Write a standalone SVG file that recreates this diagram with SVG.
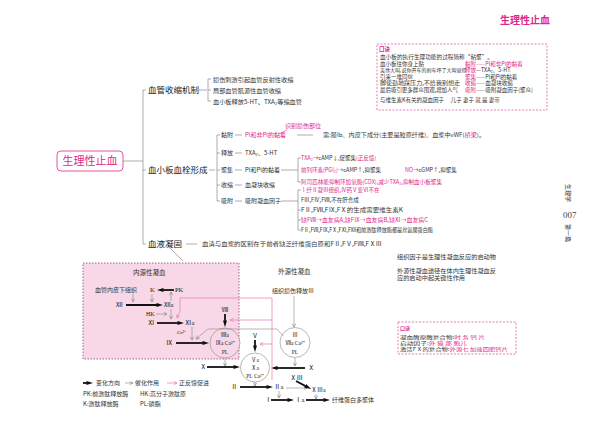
<svg xmlns="http://www.w3.org/2000/svg" width="600" height="429" viewBox="0 0 600 429">
<defs>
<style>
.c{font-family:"Noto Sans CJK SC","Liberation Sans",sans-serif;fill:#333}
.r{font-family:"Liberation Serif","Noto Sans CJK SC",serif;fill:#222}
.p{fill:#e0288a}
.ln{stroke:#777;stroke-width:0.6;fill:none}
.tk{stroke:#111;stroke-width:1.8;fill:none;marker-end:url(#ah)}
.tn{stroke:#888;stroke-width:0.6;fill:none;marker-end:url(#ag)}
.pka{stroke:#e67ab0;stroke-width:0.7;fill:none;marker-end:url(#ap)}
.box{fill:none;stroke:#d9489a;stroke-width:0.7;stroke-dasharray:2,1.5}
.f5{font-size:5px}.f55{font-size:5.5px}.f6{font-size:6px}.f62{font-size:6.2px}.f65{font-size:6.5px}
.big{font-size:8.5px;fill:#222}
</style>
<marker id="ah" viewBox="0 0 10 6" refX="4" refY="3" markerWidth="7" markerHeight="4.2" markerUnits="userSpaceOnUse" orient="auto"><path d="M0,0 L10,3 L0,6 L1.5,3 z" fill="#111"/></marker>
<marker id="ag" viewBox="0 0 6 6" refX="5.5" refY="3" markerWidth="4" markerHeight="4" markerUnits="userSpaceOnUse" orient="auto"><path d="M0.5,0.5 L5.5,3 L0.5,5.5" fill="none" stroke="#888" stroke-width="1"/></marker>
<marker id="ap" viewBox="0 0 6 6" refX="5.5" refY="3" markerWidth="4" markerHeight="4" markerUnits="userSpaceOnUse" orient="auto"><path d="M0.5,0.5 L5.5,3 L0.5,5.5" fill="none" stroke="#e67ab0" stroke-width="1"/></marker>
</defs>
<rect width="600" height="429" fill="#fff"/>

<!-- title -->
<text class="c p" x="500" y="24" style="font-size:10px;font-weight:bold">生理性止血</text>

<!-- top mnemonic box -->
<g id="mnemonic1">
<rect class="box" x="377" y="44" width="170" height="66"/>
<text class="c p f55" x="379" y="51" font-weight="bold">口诀</text>
<text class="c f55" x="380" y="59" textLength="113" lengthAdjust="spacingAndGlyphs">血小板的执行生理功能的过程简称“粘聚”。</text>
<text class="c f55" x="380" y="65.5">血小板往你身上贴</text>
<text class="c f5" x="380" y="72">突然大叫,说你开车的刹车坏了大叫觉得</text>
<text class="c f55" x="380" y="78.5">引来一堆同伙</text>
<text class="c f55" x="380" y="85" textLength="80" lengthAdjust="spacingAndGlyphs">脚使劲地踩压力,不给我别想走</text>
<text class="c f55" x="380" y="91.5" textLength="78" lengthAdjust="spacingAndGlyphs">最后吸引更多群众围观,增加人气</text>
<text class="c p f55" x="465" y="65.5">黏附——Pl和非Pl的黏着</text>
<text class="c f55" x="465" y="72"><tspan class="p">释放</tspan>—TXA₂、5-HT</text>
<text class="c f55" x="465" y="78.5"><tspan class="p">聚集</tspan>——Pl和Pl的黏着</text>
<text class="c f55" x="465" y="85"><tspan class="p">收缩</tspan>——血凝块收缩</text>
<text class="c f55" x="465" y="91.5"><tspan class="p">吸附</tspan>——吸附凝血因子(聚众)</text>
<text class="c f55" x="380" y="102">与维生素K有关的凝血因子　 儿子 妻子 就 是 妻带</text>
</g>

<!-- root node -->
<g id="root">
<rect x="57" y="151" width="66" height="20" rx="4" fill="#fff" stroke="#e0288a" stroke-width="0.8"/>
<text class="c p" x="90" y="165" text-anchor="middle" style="font-size:11px">生理性止血</text>
</g>

<g id="connectors">
<path class="ln" d="M123,161 H143 M146,90 H143 V244 H146 M143,170 H146"/>
<path class="ln" d="M199,90 H207 M211,79 H208 V101 H211 M208,90 H211"/>
<path class="ln" d="M209,170 H215 M220,135 H217 V201 H220 M217,153 H220 M217,170 H220 M217,185 H220"/>
<path class="ln" d="M235,135 H242 M235,153 H242 M235,170 H242 M235,185 H242 M235,201 H242"/>
<path class="ln" d="M297,135 H313"/>
<path class="ln" d="M281,170 H298 M301,158 H298 V182 H301"/>
<path class="ln" d="M281,201 H298 M301,190 H298 V230 H301 M298,210 H301 M298,220 H301"/>
<path class="ln" d="M186,244 H197"/>
<path class="ln" d="M170,248 L183,261"/>
<path d="M287,130 L279,134" stroke="#e0288a" stroke-width="0.6"/>
</g>

<g id="vessel">
<text class="c big" x="148" y="93">血管收缩机制</text>
<text class="c f62" x="213" y="81.5">损伤刺激引起血管反射性收缩</text>
<text class="c f62" x="213" y="92.5">局部血管肌源性血管收缩</text>
<text class="c f62" x="213" y="103.5">血小板释放5-HT、TXA₂等缩血管</text>
</g>

<g id="platelet">
<text class="c big" x="148" y="173">血小板血栓形成</text>
<text class="c p f6" x="285" y="128">识别损伤部位</text>
<text class="c f6" x="221" y="137">黏附</text>
<text class="c p f6" x="245" y="137">Pl和非Pl的黏着</text>
<text class="c f55" x="323" y="137" textLength="162" lengthAdjust="spacingAndGlyphs">需:膜Ib、内皮下成分(主要是胶原纤维)、血浆中vWF(<tspan class="p">桥梁</tspan>)。</text>
<text class="c f6" x="221" y="155">释放</text>
<text class="c f6" x="245" y="155">TXA₂、5-HT</text>
<text class="c f6" x="221" y="172">聚集</text>
<text class="c f6" x="245" y="172">Pl和Pl的黏着</text>
<text class="c f55" x="301" y="160"><tspan class="p">TXA₂</tspan>→cAMP↓,促聚集<tspan class="p">(正反馈)</tspan></text>
<text class="c f55" x="301" y="172"><tspan class="p">前列环素(PGI₂)</tspan>→cAMP↑,抑聚集</text>
<text class="c f55" x="405" y="172"><tspan class="p">NO</tspan>→cGMP↑,抑聚集</text>
<text class="c p f55" x="301" y="184" textLength="141" lengthAdjust="spacingAndGlyphs">阿司匹林能抑制环加氧酶(COX),减少TXA₂,抑制血小板聚集</text>
<text class="c f6" x="221" y="187">收缩</text>
<text class="c f6" x="245" y="187">血凝块收缩</text>
<text class="c f6" x="221" y="203">吸附</text>
<text class="c f6" x="245" y="203">吸附凝血因子</text>
<text class="c p f55" x="301" y="192">Ⅰ纤Ⅱ凝Ⅲ组织,Ⅳ钙Ⅴ变Ⅵ不在</text>
<text class="c f55" x="301" y="202">FⅢ,FⅣ,FⅧ,不在肝合成</text>
<text class="c f55" x="301" y="212" textLength="102" lengthAdjust="spacingAndGlyphs">FⅡ,FⅦ,FⅨ,FⅩ的生成需要维生素K</text>
<text class="c p f55" x="301" y="222" textLength="127" lengthAdjust="spacingAndGlyphs">缺FⅧ→血友病A,缺FⅨ→血友病B,缺Ⅺ→血友病C</text>
<text class="c f55" x="301" y="232" textLength="132" lengthAdjust="spacingAndGlyphs">FⅡ,FⅦ,FⅨ,FⅩ,FⅪ,FⅫ和前激肽释放酶都是丝氨酸蛋白酶</text>
</g>

<g id="coag">
<text class="c big" x="148" y="247">血液凝固</text>
<text class="c f55" x="202" y="246" textLength="180" lengthAdjust="spacingAndGlyphs">血清与血浆的区别在于前者缺乏纤维蛋白原和FⅡ,FⅤ,FⅧ,FⅩⅢ</text>
</g>

<!-- page side labels -->
<text class="c f6" transform="translate(566,184) rotate(90)" fill="#444">生理学</text>
<text class="r" x="563" y="218" style="font-size:9px;fill:#444">007</text>
<text class="c f6" transform="translate(566,224) rotate(90)" fill="#444">第一篇</text>

<!-- intrinsic region -->
<g id="intrinsic">
<rect x="83" y="263" width="156" height="96" fill="#f8d8e6" stroke="#8c4a70" stroke-width="0.8" stroke-dasharray="1.5,1.5"/>
<text class="c f65" x="133" y="275">内源性凝血</text>
<text class="c f6" x="95" y="292">血管内皮下组织</text>
<text class="r f65" x="150" y="292">K</text>
<text class="r f65" x="175" y="292">PK</text>
<text class="r f65" x="116" y="307">Ⅻ</text>
<text class="r f65" x="164" y="307">Ⅻa</text>
<text class="r f6" x="146" y="316">HK</text>
<text class="r f65" x="148" y="325">Ⅺ</text>
<text class="r f65" x="185" y="325">Ⅺa</text>
<text class="r" x="177" y="334" style="font-size:5px">Ca²⁺</text>
<text class="r f65" x="166" y="345">Ⅸ</text>
<text class="r f65" x="225" y="312" text-anchor="middle">Ⅷ</text>
</g>
<g id="complex1">
<circle cx="225" cy="343" r="15" fill="#f8d8e6" stroke="#888" stroke-width="0.6"/>
<text class="r f55" x="225" y="337" text-anchor="middle">Ⅷa</text>
<text class="r f55" x="225" y="345" text-anchor="middle">Ⅸa Ca²⁺</text>
<text class="r f55" x="225" y="354" text-anchor="middle">PL</text>
</g>
<g id="complex2">
<circle cx="255" cy="367.5" r="14.5" fill="#fff" stroke="#888" stroke-width="0.6"/>
<text class="r f55" x="255" y="362" text-anchor="middle">Ⅴa</text>
<text class="r f55" x="255" y="370" text-anchor="middle">Ⅹa</text>
<text class="r f55" x="255" y="377.5" text-anchor="middle">PL Ca²⁺</text>
</g>
<g id="complex3">
<circle cx="295" cy="342.5" r="15" fill="#fff" stroke="#888" stroke-width="0.6"/>
<text class="r f55" x="295" y="337" text-anchor="middle">Ⅲ</text>
<text class="r f55" x="295" y="345" text-anchor="middle">Ⅶa Ca²⁺</text>
<text class="r f55" x="295" y="354" text-anchor="middle">PL</text>
</g>
<g id="extrinsic">
<text class="c f65" x="278" y="274">外源性凝血</text>
<text class="c f6" x="272" y="293">组织损伤释放Ⅲ</text>
</g>
<g id="labels">
<text class="r f65" x="255" y="338" text-anchor="middle">Ⅴ</text>
<text class="r f65" x="200" y="369">Ⅹ</text>
<text class="r f65" x="308" y="370">Ⅹ</text>
<text class="r f65" x="231" y="389">Ⅱ</text>
<text class="r f65" x="274" y="389">Ⅱa</text>
<text class="r f65" x="290" y="380">ⅩⅢ</text>
<text class="r f6" x="311" y="392">ⅩⅢa</text>
<text class="r f65" x="265" y="402">Ⅰ</text>
<text class="r f65" x="295" y="402">Ⅰa</text>
<text class="c f6" x="332" y="402">纤维蛋白多聚体</text>
</g>

<g id="coag-connectors">
<path class="tn" d="M133,294 V302"/>
<path class="tk" d="M174,290 H161"/>
<path class="tn" d="M152,294 V302"/>
<path class="tn" d="M171,301 V292"/>
<path class="tk" d="M126,305 H159"/>
<path class="tn" d="M156,314 H167"/>
<path class="tn" d="M171,309 V319"/>
<path class="tk" d="M157,323 H180"/>
<path class="tn" d="M192,327 V340"/>
<path class="tk" d="M176,343 H205"/>
<path class="tk" d="M225,314 V323"/>
<path class="tn" d="M283,336 L277,329 H208 L196,339"/>
<path class="tn" d="M225,359 V366"/>
<path class="tk" d="M207,367 H236"/>
<path class="tk" d="M255,340 V348"/>
<path class="tk" d="M305,368 H275"/>
<path class="tn" d="M294,296 V327"/>
<path class="tn" d="M295,358 V366"/>
<path class="tn" d="M255,382 V386"/>
<path class="tk" d="M240,387 H269"/>
<path class="tn" d="M279,391 V398"/>
<path class="tn" d="M286,388 H307"/>
<path class="tk" d="M296,381 L307.5,387.1"/>
<path class="tn" d="M316,394 V399"/>
<path class="tk" d="M271,400 H290"/>
<path class="tk" d="M306,400 H326"/>
<path class="pka" d="M272,380 V298 H180 V311 L177,318"/>
<path class="pka" d="M272,320 H230"/>
<path class="pka" d="M272,344 H260"/>
</g>

<g id="legend">
<path class="tk" d="M83,383 H89"/>
<text class="c f6" x="96" y="385">变化方向</text>
<path class="tn" d="M125,383 H133"/>
<text class="c f6" x="135" y="385">催化作用</text>
<path class="pka" d="M167,383 H177"/>
<text class="c f6" x="179" y="385">正反馈促进</text>
<text class="c f6" x="83" y="396">PK:前激肽释放酶</text>
<text class="c f6" x="140" y="396">HK:高分子激肽原</text>
<text class="c f6" x="83" y="406">K:激肽释放酶</text>
<text class="c f6" x="140" y="406">PL:磷脂</text>
</g>

<g id="notes">
<text class="c f62" x="397" y="259">组织因子是生理性凝血反应的启动物</text>
<text class="c f62" x="397" y="272.5">外源性凝血途径在体内生理性凝血反</text>
<text class="c f62" x="397" y="280">应的启动中起关键性作用</text>
</g>

<g id="mnemonic2">
<rect class="box" x="398" y="322" width="118" height="32"/>
<text class="c p f5" x="400" y="330" font-weight="bold">口诀</text>
<text class="c f5" x="400" y="338.5" textLength="85" lengthAdjust="spacingAndGlyphs">凝血酶原酶复合物:<tspan class="p">时 务 钙 片</tspan></text>
<text class="c f5" x="400" y="344.5" textLength="67" lengthAdjust="spacingAndGlyphs">启动因子:<tspan class="p">外 猫 那 胞儿</tspan></text>
<text class="c f5" x="400" y="350.5" textLength="108" lengthAdjust="spacingAndGlyphs">激活FⅩ的复合物:<tspan class="p">外源七 加速四肥钙片</tspan></text>
</g>
</svg>
